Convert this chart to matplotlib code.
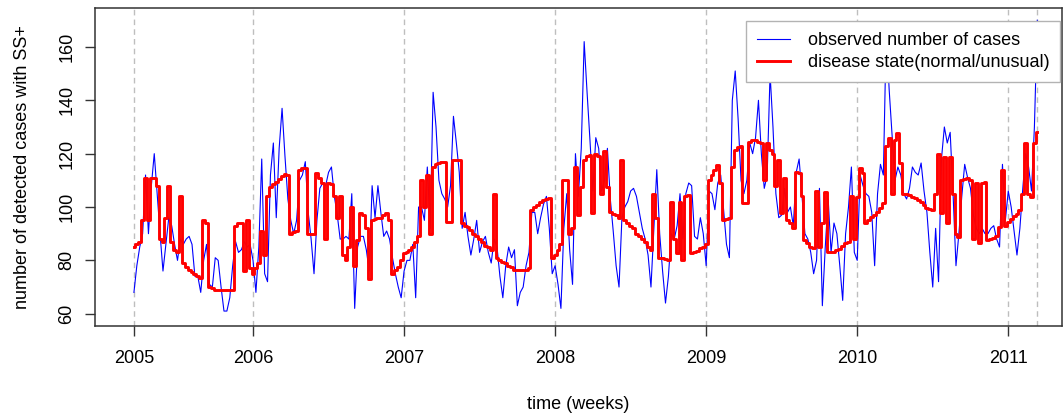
import matplotlib
matplotlib.use('Agg')
import matplotlib.pyplot as plt

# year labels and the week index at which each label sits
years = ['2005', '2006', '2007', '2008', '2009', '2010', '2011']
year_start_week = [0, 41, 93, 145, 197, 249, 301]

# weekly observed number of SS+ cases
observed = [
    68, 78, 85, 90, 112, 90, 108, 120, 105, 90,
    76, 86, 96, 93, 86, 80, 88, 86, 88, 89,
    86, 74, 74, 68, 80, 86, 71, 70, 81, 80,
    70, 61, 61, 66, 78, 87, 83, 84, 87, 85,
    86,
    80, 68, 85, 118, 75, 72, 112, 124, 96, 122,
    137, 119, 103, 95, 90, 95, 110, 112, 117, 98,
    88, 75, 95, 107, 109, 108, 113, 115, 104, 97,
    88, 88, 89, 88, 105, 62, 85, 89, 89, 84,
    76, 108, 96, 108, 98, 89, 91, 88, 81, 75,
    70, 66,
    76, 80, 80, 86, 66, 100, 100, 95, 115, 92,
    143, 130, 110, 105, 103, 100, 108, 134, 124, 113,
    92, 98, 89, 82, 88, 95, 83, 87, 89, 83,
    79, 88, 85, 74, 66, 78, 85, 81, 84, 63,
    68, 70, 78, 83, 98, 98, 90,
    96, 101, 104, 92, 75, 78, 71, 62, 92, 105,
    84, 71, 120, 104, 122, 162, 143, 125, 106, 126,
    122, 106, 110, 122, 103, 91, 78, 70, 96, 100,
    102, 106, 107, 104, 98, 92, 88, 82, 70, 92,
    114, 90, 76, 64, 74, 90, 88,
    93, 105, 88, 105, 109, 108, 89, 88, 96, 90,
    78, 106, 105, 99, 109, 112, 99, 86, 81, 140,
    151, 133, 110, 105, 110, 124, 120, 126, 140, 120,
    107, 112, 150, 130, 105, 96, 97, 107, 98, 100,
    93, 113, 118, 104, 90, 88, 83,
    75, 80, 107, 63, 85, 103, 83, 94, 90, 78,
    65, 90, 100, 115, 83, 80, 112, 108, 105, 104,
    98, 78, 105, 116, 112, 166, 144, 127, 110, 115,
    112, 105, 103, 107, 115, 113, 112, 116.5, 106, 98,
    83, 70, 92, 72, 118, 130, 124, 128, 105, 78,
    90, 104, 116, 111, 107, 97, 92, 90, 92, 90,
    90, 92, 93, 88, 85, 116, 95, 106, 100, 91,
    82, 92, 107, 120, 115, 106, 130, 170,
]

# estimated disease state (normal / unusual level)
disease_state = [
    85, 86, 87, 95, 111, 95, 111, 111, 108, 88,
    87, 96, 108, 87, 84, 83, 104, 79, 77.5, 76.5,
    75.5, 75, 74, 73.5, 95, 94, 70, 69.5, 69, 69,
    69, 69, 69, 69, 69, 93, 94, 94, 76, 95,
    77,
    75, 77, 79, 91, 82, 104, 107.5, 108.5, 109.5, 110.5,
    111.5, 112.5, 112, 90, 90.5, 91, 114, 114.5, 114.6, 90,
    90, 90, 112.7, 111, 109, 88, 109, 108.5, 104, 96,
    104, 82, 80, 85, 100, 78, 87.6, 97.8, 97, 92,
    73, 95, 95.5, 95.8, 96, 97, 97.8, 95, 75, 76.5,
    77.5, 80,
    82.7, 83, 84, 85, 87, 89, 110, 100, 112, 90,
    115, 116, 116.5, 117, 117, 94.4, 94.4, 117.6, 117.6, 117.6,
    94, 93, 92.5, 91.5, 90, 89, 88, 87, 85.5, 85,
    84, 105, 81, 80, 79.5, 79, 78, 77.5, 76.5, 76.3,
    76.3, 76.3, 76.3, 77, 99, 100, 100.6,
    102, 102.5, 103, 103.4, 81, 82, 84, 86, 110, 110,
    90, 92, 115, 97, 107.5, 117.6, 119, 119.5, 97.8, 120,
    119, 105, 121, 107.5, 98, 97.5, 97, 96, 117.6, 95,
    94, 93, 92, 90, 89, 88, 87, 85, 84, 105,
    96, 81, 81, 80.5, 80, 102, 88,
    82.7, 102, 80, 104, 104.4, 82.7, 83, 83.5, 84.5, 85,
    86, 110, 112, 114, 115.7, 109, 95, 95.5, 96, 115,
    121.5, 122.5, 122.8, 101.4, 101.4, 124.4, 125, 125, 124.5, 124,
    110, 124, 121.3, 120, 108, 117.6, 97.8, 111, 95, 94,
    92, 113, 112.7, 104, 87.6, 86.5, 85,
    84.5, 106, 85, 94, 105.6, 83, 83, 83.3, 83.8, 84.3,
    85.3, 86.4, 87, 104, 88, 103.7, 114.5, 112.7, 94, 95,
    96.2, 97, 98, 99.5, 101.4, 123, 126, 105, 125, 127.7,
    116.5, 105, 105, 104.4, 103.8, 103.2, 102.8, 102, 100.8, 99.8,
    99.4, 99, 105, 120, 97.8, 118.8, 94, 118.8, 105, 90,
    88.8, 110, 110.5, 111, 110, 88, 109, 86.5, 109, 109.4,
    87.6, 88, 88.5, 89, 92.5, 114, 93, 94.5, 95.5, 96.5,
    97.5, 99, 105, 124, 105, 103.7, 124, 128,
]

weeks = list(range(len(observed)))

plt.rcParams['font.family'] = ['Liberation Sans', 'DejaVu Sans']

W, H = 1063, 418
fig = plt.figure(figsize=(W / 100, H / 100), dpi=100)
ax = fig.add_axes([95 / W, 1 - 326 / H, (1062 - 95) / W, (326 - 8) / H])

# dashed guides at each year and at the last week
for w in year_start_week + [weeks[-1]]:
    ax.axvline(w, color='#bebebe', linestyle=(0, (4, 3)), linewidth=1.0, zorder=0)

ax.plot(weeks, observed, color='#0000ff', linewidth=0.8,
        label='observed number of cases')
ax.plot(weeks, disease_state, color='#ff0000', linewidth=2.1,
        drawstyle='steps-mid', label='disease state(normal/unusual)')

ax.set_xlim(-13.4, 319.5)
ax.set_ylim(55.4, 174.6)
ax.set_xticks(year_start_week)
ax.set_xticklabels(years)
ax.set_yticks(range(60, 161, 20))
ax.tick_params(axis='both', length=7, width=1, labelsize=13, color='#333333')
ax.tick_params(axis='x', pad=10)
ax.tick_params(axis='y', pad=7)
for lab in ax.get_yticklabels():
    lab.set_rotation(90)
    lab.set_va('center')

for s in ax.spines.values():
    s.set_linewidth(1.1)
    s.set_color('#333333')

ax.set_xlabel('time (weeks)', fontsize=13)
ax.xaxis.set_label_coords(0.5, -0.22)
ax.set_ylabel('number of detected cases with SS+', fontsize=13)
ax.yaxis.set_label_coords(-0.066, 0.5)

leg = ax.legend(loc='upper right', bbox_to_anchor=(0.998, 0.959), borderaxespad=0,
                fontsize=13, handlelength=1.85, handletextpad=0.95,
                labelspacing=0.3, borderpad=0.6, fancybox=False, framealpha=1)
leg.get_frame().set_edgecolor('#b3b3b3')
leg.get_frame().set_linewidth(1.0)

fig.savefig('out.png', dpi=100)
